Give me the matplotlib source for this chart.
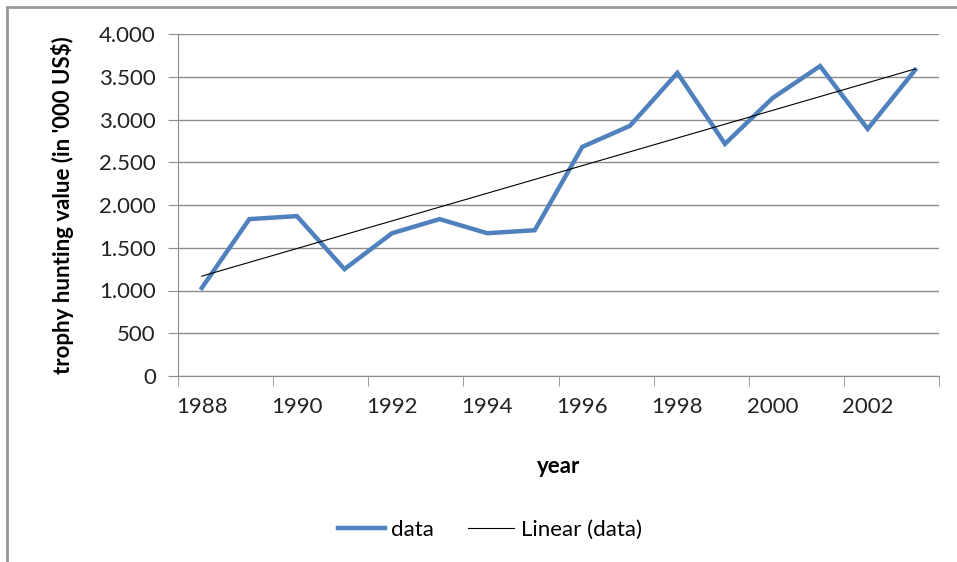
import numpy as np
import matplotlib
matplotlib.use("Agg")
import matplotlib.pyplot as plt
from matplotlib.lines import Line2D
from matplotlib.ticker import FuncFormatter

plt.rcParams['font.family'] = ['Lato', 'DejaVu Sans']

# Daten
years = [1988, 1989, 1990, 1991, 1992, 1993, 1994, 1995,
         1996, 1997, 1998, 1999, 2000, 2001, 2002, 2003]
values = [1030, 1835, 1870, 1250, 1670, 1835, 1670, 1705,
          2680, 2925, 3545, 2715, 3250, 3625, 2890, 3580]
y_ticks = [0, 500, 1000, 1500, 2000, 2500, 3000, 3500, 4000]

x = np.arange(len(years))
coef = np.polyfit(x, values, 1)
trend = np.polyval(coef, x)

fig = plt.figure(figsize=(9.57, 5.62), dpi=100)
ax = fig.add_axes([178 / 957, 1 - 376 / 562, (939 - 178) / 957, (376 - 34) / 562])

ax.plot(x, values, color="#4F81BD", lw=3.2, label="data", solid_joinstyle="miter")
ax.plot(x, trend, color="black", lw=0.8, label="Linear (data)")

ax.set_xlim(-0.5, len(years) - 0.5)
ax.set_ylim(0, 4000)

ax.set_yticks(y_ticks)
ax.yaxis.set_major_formatter(FuncFormatter(lambda v, p: f"{int(v):,}".replace(",", ".")))
ax.grid(axis="y", color="#8c8c8c", lw=1)
ax.set_axisbelow(True)

ax.set_xticks(x[::2])
ax.set_xticklabels([str(y) for y in years[::2]])
ax.set_xticks(np.arange(-0.5, len(years), 2), minor=True)
ax.tick_params(axis="x", which="major", length=0, pad=15, labelsize=16, colors="#222222")
ax.tick_params(axis="x", which="minor", length=7, color="#8c8c8c", direction="out")
ax.tick_params(axis="y", length=7, color="#8c8c8c", pad=9, labelsize=16, labelcolor="#222222")

for s in ["top", "right"]:
    ax.spines[s].set_visible(False)
for s in ["left", "bottom"]:
    ax.spines[s].set_color("#8c8c8c")

ax.set_xlabel("year", fontsize=16, fontweight="bold", labelpad=28)
ax.set_ylabel("trophy hunting value (in '000 US$)", fontsize=16, fontweight="bold", labelpad=18)

fig.legend(loc="center", bbox_to_anchor=(490 / 957, 1 - 530 / 562), ncol=2,
           frameon=False, fontsize=16, handlelength=2.1, columnspacing=1.5, handletextpad=0.3)

# Rahmen des Diagrammbereichs
fig.add_artist(Line2D([7 / 957, 7 / 957], [0, 1 - 7 / 562], color="#999999", lw=2))
fig.add_artist(Line2D([7 / 957, 1], [1 - 7 / 562, 1 - 7 / 562], color="#999999", lw=2))

plt.savefig("out.png", dpi=100)
